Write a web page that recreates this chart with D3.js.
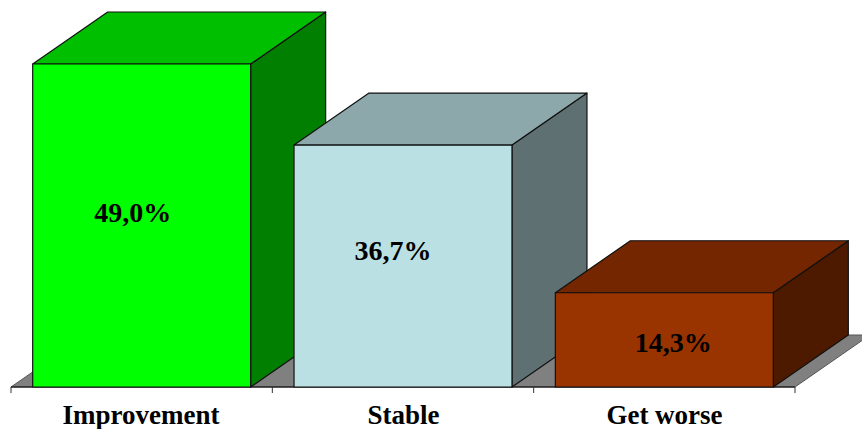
<!DOCTYPE html>
<html>
<head>
<meta charset="utf-8">
<style>
  html, body { margin: 0; padding: 0; background: #fff; }
  svg { display: block; }
  text { font-family: "Liberation Serif", "Times New Roman", serif; font-weight: bold; fill: #000; }
</style>
<script src="https://d3js.org/d3.v7.min.js"></script>
</head>
<body>
<div id="chart"></div>
<script>
const categories = ["Improvement", "Stable", "Get worse"];
const values = [49.0, 36.7, 14.3];
const valueLabels = ["49,0%", "36,7%", "14,3%"];
const frontColors = ["#00ff00", "#bbe0e3", "#993300"];
const topColors = ["#00bf00", "#8ca8aa", "#732600"];
const sideColors = ["#007f00", "#5e7072", "#4d1a00"];

const width = 862, height = 429;
const baseY = 387, left = 11, right = 795;
const depthX = 75, depthY = -52;

const svg = d3.select("#chart").append("svg")
  .attr("width", width).attr("height", height);

const x = d3.scaleBand().domain(categories).range([left, right])
  .paddingInner(0.166).paddingOuter(0.083);
const y = d3.scaleLinear().domain([0, 49]).range([baseY, 64]);

const poly = pts => "M" + pts.map(p => p.join(",")).join("L") + "Z";

// Grey floor running behind the bars, cut off by the page edge on the right
svg.append("path")
  .attr("d", poly([[left, baseY], [left + depthX, baseY + depthY], [right + depthX, baseY + depthY], [right, baseY]]))
  .attr("fill", "#808080").attr("stroke", "#555").attr("stroke-width", 1);

// Axis line and category labels
const axis = svg.append("g").attr("transform", `translate(0,${baseY})`);
axis.append("line").attr("x1", left).attr("x2", right).attr("stroke", "#000");
const step = x.step();
d3.range(categories.length + 1).forEach(i => {
  const tx = left + i * step;
  axis.append("line").attr("x1", tx).attr("x2", tx).attr("y1", 0).attr("y2", 6).attr("stroke", "#333");
});

// Each bar is a box: side face, top face, then the front face
const bars = svg.selectAll("g.bar")
  .data(categories.map((c, i) => ({ c, v: values[i], i })))
  .join("g").attr("class", "bar");

bars.append("path").attr("d", d => {
  const x1 = x(d.c) + x.bandwidth(), yt = y(d.v);
  return poly([[x1, yt], [x1 + depthX, yt + depthY], [x1 + depthX, baseY + depthY], [x1, baseY]]);
}).attr("fill", d => sideColors[d.i]);

bars.append("path").attr("d", d => {
  const x0 = x(d.c), x1 = x0 + x.bandwidth(), yt = y(d.v);
  return poly([[x0, yt], [x0 + depthX, yt + depthY], [x1 + depthX, yt + depthY], [x1, yt]]);
}).attr("fill", d => topColors[d.i]);

bars.append("rect")
  .attr("x", d => x(d.c)).attr("y", d => y(d.v))
  .attr("width", x.bandwidth()).attr("height", d => baseY - y(d.v))
  .attr("fill", d => frontColors[d.i]);

bars.selectAll("path,rect").attr("stroke", "#111").attr("stroke-width", 1.2).attr("stroke-linejoin", "round");

// Value labels sit on the front face, nudged per bar
const nudgeX = [-9, -10, 9], nudgeY = [-4, -6, 12];
bars.append("text")
  .attr("x", d => x(d.c) + x.bandwidth() / 2 + nudgeX[d.i])
  .attr("y", d => (y(d.v) + baseY) / 2 + nudgeY[d.i])
  .attr("text-anchor", "middle").attr("font-size", 28)
  .text(d => valueLabels[d.i]);

svg.selectAll("text.cat").data(categories).join("text")
  .attr("class", "cat")
  .attr("x", (d, i) => [141, 403.5, 664.5][i])
  .attr("y", 424).attr("text-anchor", "middle").attr("font-size", 27)
  .text(d => d);
</script>
</body>
</html>
